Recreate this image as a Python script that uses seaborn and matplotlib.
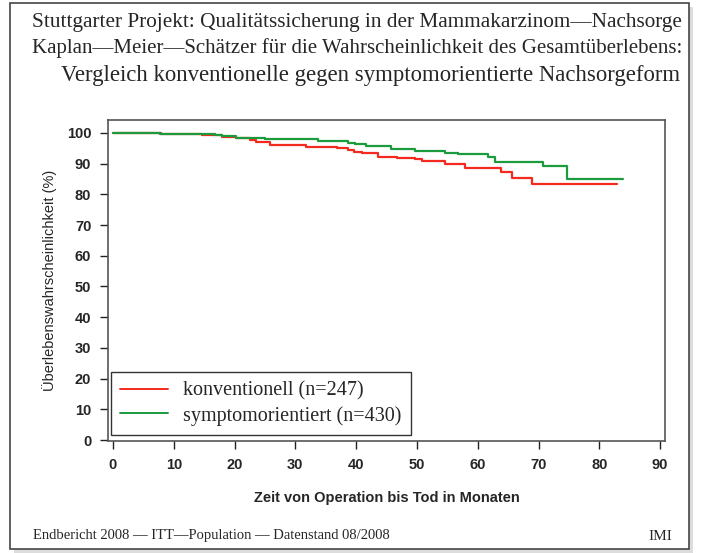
import numpy as np
import pandas as pd
import matplotlib
matplotlib.use("Agg")
import matplotlib.pyplot as plt
import seaborn as sns
from matplotlib.patches import Rectangle

# --- data ---
konv_monate = [0, 7.9, 12.7, 14.6, 17.9, 20.3, 22.5, 23.6, 25.8, 31.8, 36.8, 38.7, 39.6,
               40.9, 43.6, 46.7, 49.7, 50.8, 54.6, 57.9, 63.8, 65.7, 68.9, 82.9]
konv_surv = [100, 99.8, 99.5, 99.2, 98.8, 98.3, 97.7, 97.0, 96.0, 95.3, 95.0, 94.5, 93.9,
             93.6, 92.3, 91.8, 91.4, 90.7, 90.0, 88.5, 87.2, 85.2, 83.4, 83.4]

sympt_monate = [0, 7.7, 12.7, 16.8, 17.9, 20.3, 25.0, 33.8, 38.7, 39.8, 41.7, 45.8, 49.7,
                54.6, 56.8, 61.7, 62.8, 70.8, 74.7, 83.9]
sympt_surv = [100, 99.8, 99.5, 99.2, 98.9, 98.5, 98.0, 97.5, 96.8, 96.3, 95.8, 94.9, 94.2,
              93.4, 93.1, 92.3, 90.6, 89.3, 84.9, 84.9]

gruppen = ["konventionell (n=247)", "symptomorientiert (n=430)"]
farben = ["#f52a1e", "#1c9a3e"]
x_ticks = list(range(0, 91, 10))
y_ticks = list(range(0, 101, 10))

df = pd.concat([
    pd.DataFrame({"Monate": konv_monate, "Surv": konv_surv, "Gruppe": gruppen[0]}),
    pd.DataFrame({"Monate": sympt_monate, "Surv": sympt_surv, "Gruppe": gruppen[1]}),
], ignore_index=True)

sns.set_style("white")
plt.rcParams["font.family"] = ["Liberation Sans", "DejaVu Sans"]

fig = plt.figure(figsize=(7.03, 5.53), dpi=100)
ax = fig.add_axes([108 / 703, 1 - 441 / 553, (665 - 108) / 703, (441 - 120) / 553])

sns.lineplot(data=df, x="Monate", y="Surv", hue="Gruppe", palette=farben,
             estimator=None, sort=False, drawstyle="steps-post", linewidth=1.6, ax=ax)

ax.set_xlim(-0.82, 90.8)
ax.set_ylim(-0.3, 104.2)
ax.set_xticks(x_ticks)
ax.set_yticks(y_ticks)
ax.tick_params(axis="both", direction="out", length=6, width=1, color="#222222",
               labelsize=10.5, pad=6, left=True, bottom=True)
for lbl in ax.get_xticklabels() + ax.get_yticklabels():
    lbl.set_fontweight("bold")
for sp in ax.spines.values():
    sp.set_visible(True)
    sp.set_color("#555555")
    sp.set_linewidth(1.2)

ax.set_xlabel("Zeit von Operation bis Tod in Monaten", fontsize=10.5, fontweight="bold", labelpad=14)
ax.set_ylabel("Überlebenswahrscheinlichkeit (%)", fontsize=10.5, labelpad=7)

leg = ax.legend(loc="lower left", bbox_to_anchor=(0.005, 0.02), frameon=True, fancybox=False,
                prop={"family": "Liberation Serif", "size": 14.5}, handlelength=2.4,
                borderpad=0.45, labelspacing=0.25, handletextpad=0.75, borderaxespad=0)
leg.get_frame().set_edgecolor("black")
leg.get_frame().set_linewidth(1.0)
for line in leg.get_lines():
    line.set_linewidth(1.4)

# titles
serif = {"family": "Liberation Serif"}
fig.text(357 / 703, 1 - 22 / 553, "Stuttgarter Projekt: Qualitätssicherung in der Mammakarzinom—Nachsorge",
         ha="center", va="center", fontsize=15.3, fontdict=serif)
fig.text(357 / 703, 1 - 48 / 553, "Kaplan—Meier—Schätzer für die Wahrscheinlichkeit des Gesamtüberlebens:",
         ha="center", va="center", fontsize=15.0, fontdict=serif)
fig.text(680 / 703, 1 - 75 / 553, "Vergleich konventionelle gegen symptomorientierte Nachsorgeform",
         ha="right", va="center", fontsize=16.4, fontdict=serif)

# footer
fig.text(33 / 703, 1 - 536 / 553, "Endbericht 2008 — ITT—Population — Datenstand 08/2008",
         ha="left", va="center", fontsize=10.5, fontdict=serif)
fig.text(672 / 703, 1 - 536 / 553, "IMI", ha="right", va="center", fontsize=11, fontdict=serif)

# outer frame with shadow
fig.patches.append(Rectangle((14 / 703, 1 - 553 / 553), 679 / 703, 546 / 553, transform=fig.transFigure,
                             facecolor="#bbbbbb", edgecolor="none", alpha=0.5, zorder=-2))
fig.patches.append(Rectangle((10 / 703, 1 - 549 / 553), 679 / 703, 546 / 553, transform=fig.transFigure,
                             facecolor="white", edgecolor="#444444", linewidth=1.2, zorder=-1))

fig.savefig("out.png", dpi=100)
